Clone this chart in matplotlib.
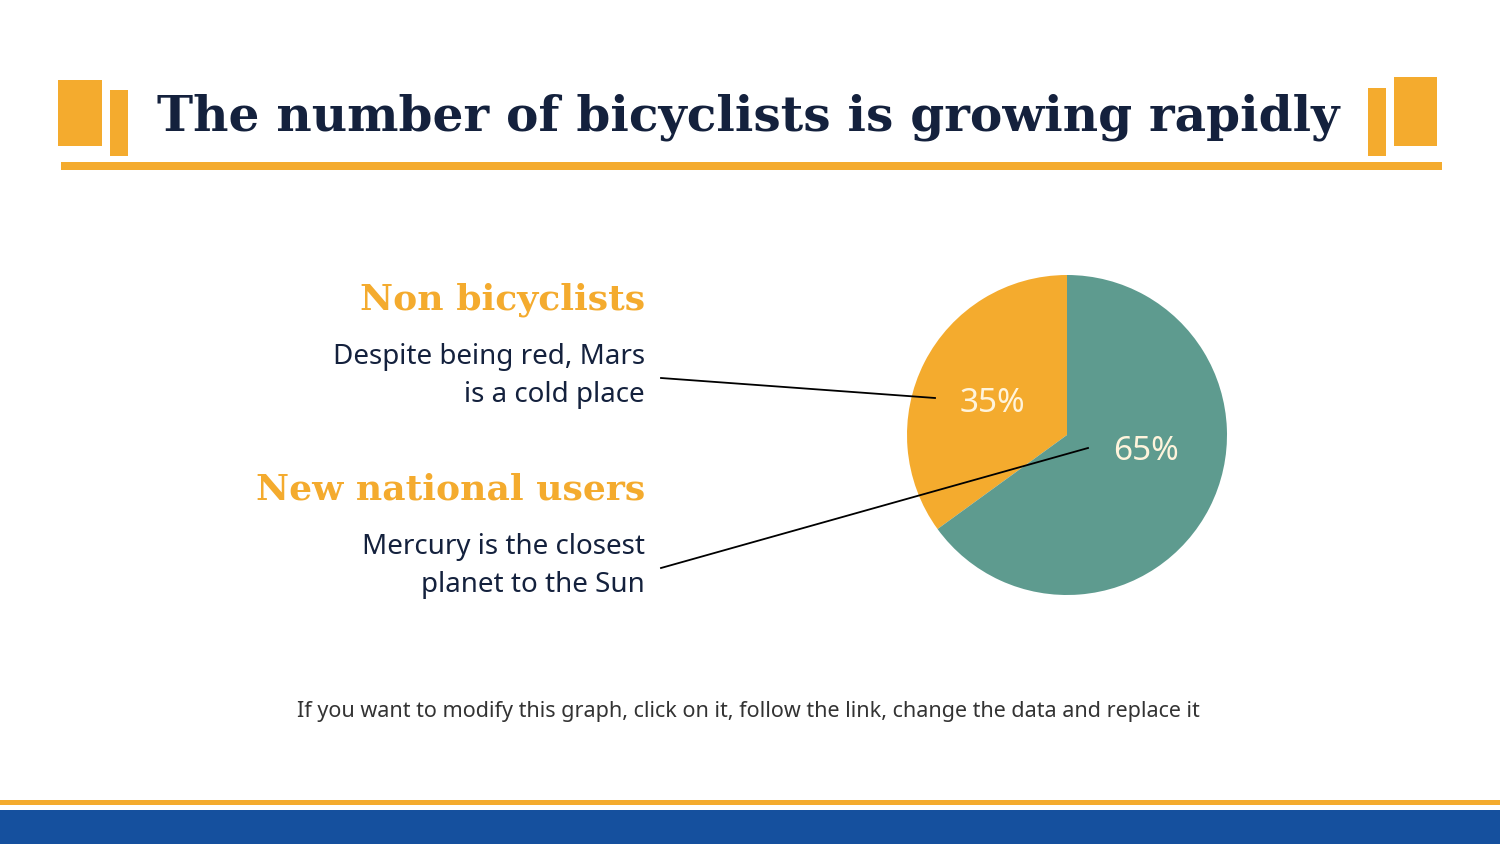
import matplotlib
matplotlib.use("Agg")
import matplotlib.pyplot as plt
import matplotlib.patches as mpatches

# data
labels = ["Non bicyclists", "New national users"]
shares = [35, 65]
pct_labels = ["35%", "65%"]
notes = ["Despite being red, Mars\nis a cold place", "Mercury is the closest\nplanet to the Sun"]

ORANGE = "#F4AB2E"
GREEN = "#5E9B8F"
NAVY = "#14213D"
BLUE = "#15509E"

W, H = 1500, 844
fig = plt.figure(figsize=(15, 8.44), dpi=100)
ax = fig.add_axes([0, 0, 1, 1])

def py(y):
    return H - y

# pie
wedges, _ = ax.pie(shares, colors=[ORANGE, GREEN], startangle=90, counterclock=True,
                   center=(1067, py(435)), radius=160, frame=True)
ax.set_xlim(0, W)
ax.set_ylim(0, H)
ax.set_aspect("auto")
ax.axis("off")

ax.text(992, py(403), pct_labels[0], fontsize=24, color="#FFF4DC", ha="center", va="center",
        family="Noto Sans", fontweight="bold")
ax.text(1146, py(451), pct_labels[1], fontsize=24, color="#FFF4DC", ha="center", va="center",
        family="Noto Sans", fontweight="bold")

# title decorations
ax.add_patch(mpatches.Rectangle((58, py(146)), 44, 66, color=ORANGE, lw=0))
ax.add_patch(mpatches.Rectangle((110, py(156)), 18, 66, color=ORANGE, lw=0))
ax.add_patch(mpatches.Rectangle((1394, py(146)), 43, 69, color=ORANGE, lw=0))
ax.add_patch(mpatches.Rectangle((1368, py(156)), 18, 68, color=ORANGE, lw=0))
ax.add_patch(mpatches.Rectangle((61, py(170)), 1381, 8, color=ORANGE, lw=0))
ax.text(748, py(117), "The number of bicyclists is growing rapidly", fontsize=35,
        color=NAVY, ha="center", va="center", family="DejaVu Serif", fontweight="bold")

# labels and notes
ax.text(645, py(300), labels[0], fontsize=26, color=ORANGE, ha="right", va="center",
        family="DejaVu Serif", fontweight="bold")
ax.text(645, py(376), notes[0], fontsize=20, color=NAVY, ha="right", va="center",
        family="Noto Sans", linespacing=1.45)
ax.text(645, py(490), labels[1], fontsize=26, color=ORANGE, ha="right", va="center",
        family="DejaVu Serif", fontweight="bold")
ax.text(645, py(566), notes[1], fontsize=20, color=NAVY, ha="right", va="center",
        family="Noto Sans", linespacing=1.45)

ax.plot([661, 935], [py(378), py(398)], color="black", lw=1.3)
ax.plot([661, 1088], [py(568), py(448)], color="black", lw=1.3)

ax.text(748, py(711), "If you want to modify this graph, click on it, follow the link, change the data and replace it",
        fontsize=15.5, color="#333333", ha="center", va="center", family="Noto Sans", fontweight="light")

# footer
ax.add_patch(mpatches.Rectangle((0, py(805)), W, 5, color=ORANGE, lw=0))
ax.add_patch(mpatches.Rectangle((0, 0), W, py(810), color=BLUE, lw=0))

fig.savefig("out.png", dpi=100)
